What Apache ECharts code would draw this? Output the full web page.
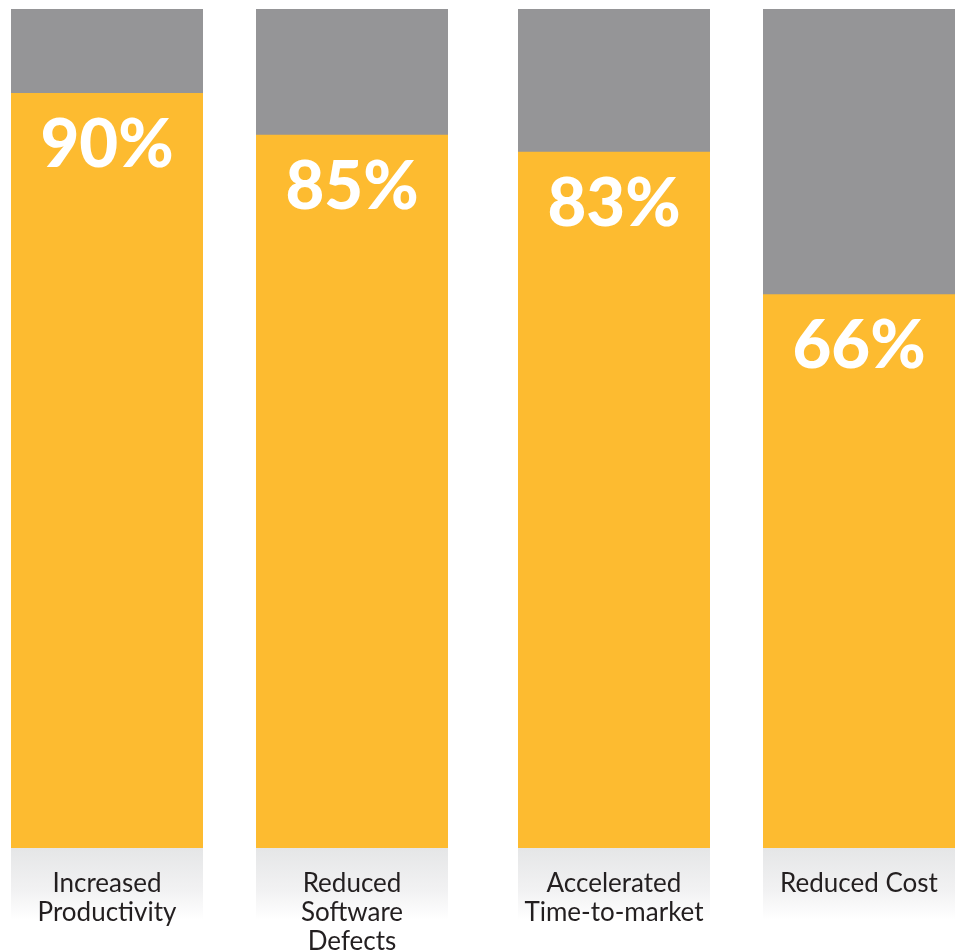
<!DOCTYPE html>
<html>
<head>
<meta charset="utf-8">
<style>
  html, body { margin: 0; padding: 0; background: #ffffff; }
  #chart { width: 956px; height: 952px; }
</style>
<script src="https://cdn.jsdelivr.net/npm/echarts@6/dist/echarts.min.js"></script>
</head>
<body>
<div id="chart"></div>
<script>
// Survey results: share of respondents reporting each benefit
const categories = ['Increased\nProductivity', 'Reduced\nSoftware\nDefects', 'Accelerated\nTime-to-market', 'Reduced Cost'];
const values = [90, 85, 83, 66];

// Column placement (px)
const columnLefts = [11, 256, 518, 763];
const columnWidth = 192;
const plotTop = 9;
const plotHeight = 839;
const bandHeight = 72;

const YELLOW = '#FDBB30';
const GRAY = '#959597';

const chart = echarts.init(document.getElementById('chart'), null, { renderer: 'canvas' });

const grids = [], xAxes = [], yAxes = [], series = [], graphics = [];

categories.forEach((name, i) => {
  grids.push({
    left: columnLefts[i], top: plotTop, width: columnWidth, height: plotHeight,
    containLabel: false, outerBoundsMode: 'none'
  });
  xAxes.push({
    type: 'category', gridIndex: i, data: [name],
    axisLine: { show: false }, axisTick: { show: false },
    axisLabel: {
      margin: 21, color: '#231F20', fontFamily: 'Lato', fontSize: 26,
      lineHeight: 29, verticalAlign: 'top', interval: 0
    }
  });
  yAxes.push({ type: 'value', gridIndex: i, min: 0, max: 100, show: false, splitLine: { show: false } });
  series.push({
    type: 'bar', xAxisIndex: i, yAxisIndex: i,
    data: [values[i]], barWidth: '100%',
    itemStyle: { color: YELLOW },
    showBackground: true, backgroundStyle: { color: GRAY },
    label: {
      show: true, position: 'insideTop', distance: 19,
      formatter: '{c}%', color: '#ffffff', fontFamily: 'Lato',
      fontWeight: 900, fontSize: 67
    },
    emphasis: { disabled: true },
    animation: false
  });
  // light shaded band behind each category name
  graphics.push({
    type: 'rect', z: -1,
    shape: { x: columnLefts[i], y: plotTop + plotHeight, width: columnWidth, height: bandHeight },
    style: {
      fill: new echarts.graphic.LinearGradient(0, 0, 0, 1, [
        { offset: 0, color: '#E5E6E7' },
        { offset: 0.6, color: '#F2F2F3' },
        { offset: 1, color: '#FFFFFF' }
      ])
    }
  });
});

chart.setOption({
  animation: false,
  grid: grids,
  xAxis: xAxes,
  yAxis: yAxes,
  series: series,
  graphic: graphics
});
</script>
</body>
</html>
